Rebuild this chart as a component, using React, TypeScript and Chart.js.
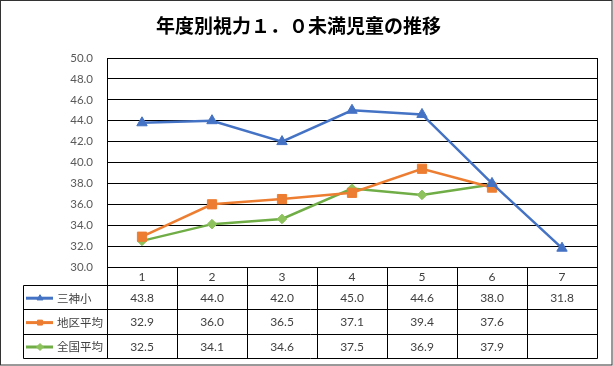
import React, { useEffect, useRef } from "react";
import { Chart, registerables } from "chart.js";
import { drawPoint } from "chart.js/helpers";

Chart.register(...registerables);

const TITLE = "年度別視力１．０未満児童の推移";
const categories = ["1", "2", "3", "4", "5", "6", "7"];
const seriesNames = ["三神小", "地区平均", "全国平均"];
const mikami = [43.8, 44.0, 42.0, 45.0, 44.6, 38.0, 31.8];
const chiku = [32.9, 36.0, 36.5, 37.1, 39.4, 37.6, null];
const zenkoku = [32.5, 34.1, 34.6, 37.5, 36.9, 37.9, null];

const lineColors = ["#4472C4", "#ED7D31", "#70AD47"];
const markerColors = ["#4472C4", "#ED7D31", "#8DC25D"];
const pointStyles = ["triangle", "rect", "rectRot"];
const pointRadii = [6, 6.5, 4.8];

const W = 613;
const H = 366;

const tablePlugin = {
  id: "dataTable",
  afterDraw(chart: any) {
    const ctx = chart.ctx;
    const area = chart.chartArea;
    const xs = chart.scales.x;
    const n = categories.length;
    const colW = (area.right - area.left) / n;
    const headerTop = area.bottom;
    const headerBottom = headerTop + 18;
    const rowH = 24.4;
    const tableBottom = headerBottom + rowH * 3;
    const legendLeft = 23.5;

    ctx.save();
    ctx.strokeStyle = "#000";
    ctx.lineWidth = 1;
    ctx.beginPath();
    ctx.moveTo(Math.round(area.right) + 0.5, area.top);
    ctx.lineTo(Math.round(area.right) + 0.5, Math.round(tableBottom) + 0.5);
    ctx.moveTo(Math.round(area.left) + 0.5, area.bottom);
    ctx.lineTo(Math.round(area.left) + 0.5, Math.round(tableBottom) + 0.5);
    for (let i = 1; i < n; i++) {
      const x = Math.round(area.left + colW * i) + 0.5;
      ctx.moveTo(x, headerTop);
      ctx.lineTo(x, Math.round(tableBottom) + 0.5);
    }
    for (let r = 0; r <= 3; r++) {
      const y = Math.round(headerBottom + rowH * r) + 0.5;
      ctx.moveTo(legendLeft, y);
      ctx.lineTo(Math.round(area.right) + 0.5, y);
    }
    ctx.moveTo(legendLeft, Math.round(headerBottom) + 0.5);
    ctx.lineTo(legendLeft, Math.round(tableBottom) + 0.5);
    ctx.stroke();

    ctx.fillStyle = "#404040";
    ctx.font = "12px Lato, 'Noto Sans', sans-serif";
    ctx.textAlign = "center";
    ctx.textBaseline = "middle";
    categories.forEach((c, i) => {
      ctx.fillText(c, xs.getPixelForValue(i), (headerTop + headerBottom) / 2 + 1);
    });

    const allData = [mikami, chiku, zenkoku];
    allData.forEach((arr, r) => {
      const cy = headerBottom + rowH * r + rowH / 2 + 1;
      ctx.strokeStyle = lineColors[r];
      ctx.lineWidth = 3;
      ctx.beginPath();
      ctx.moveTo(26, cy);
      ctx.lineTo(53, cy);
      ctx.stroke();
      ctx.fillStyle = markerColors[r];
      ctx.strokeStyle = markerColors[r];
      ctx.lineWidth = 1;
      drawPoint(ctx, { pointStyle: pointStyles[r], radius: 3.5, borderWidth: 1, rotation: 0 } as any, 40, cy);
      ctx.fillStyle = "#404040";
      ctx.textAlign = "left";
      ctx.font = "11.5px 'Noto Sans CJK JP', sans-serif";
      ctx.fillText(seriesNames[r], 57, cy);
      ctx.textAlign = "center";
      ctx.font = "12px Lato, 'Noto Sans', sans-serif";
      arr.forEach((v, i) => {
        if (v === null || v === undefined) return;
        ctx.fillText((v as number).toFixed(1), xs.getPixelForValue(i), cy);
      });
    });

    ctx.strokeStyle = "#333";
    ctx.lineWidth = 1;
    ctx.strokeRect(0.5, 0.5, W - 1.5, H - 1.5);
    ctx.restore();
  },
};

export default function App() {
  const ref = useRef<HTMLCanvasElement | null>(null);
  useEffect(() => {
    document.body.style.margin = "0";
    const canvas = ref.current!;
    const datasets = [mikami, chiku, zenkoku].map((d, i) => ({
      label: seriesNames[i],
      data: d,
      borderColor: lineColors[i],
      backgroundColor: markerColors[i],
      borderWidth: 2.5,
      pointStyle: pointStyles[i],
      pointRadius: pointRadii[i],
      pointBackgroundColor: markerColors[i],
      pointBorderColor: markerColors[i],
      pointBorderWidth: 1,
      tension: 0,
      spanGaps: false,
    }));
    const chart = new Chart(canvas, {
      type: "line",
      data: { labels: categories, datasets },
      options: {
        responsive: false,
        devicePixelRatio: 1,
        animation: false,
        layout: { padding: { left: 0, right: 16, top: 0, bottom: 99 } },
        plugins: {
          legend: { display: false },
          tooltip: { enabled: false },
          title: {
            display: true,
            text: TITLE,
            color: "#000",
            font: { family: "'Noto Sans CJK JP', sans-serif", size: 19, weight: "bold" },
            padding: { top: 14.6, bottom: 20.6 },
          },
        },
        scales: {
          x: { type: "category", display: false, offset: true },
          y: {
            min: 30,
            max: 50,
            ticks: {
              stepSize: 2,
              color: "#595959",
              font: { family: "Lato, 'Noto Sans', sans-serif", size: 11.5 },
              padding: 14,
              callback: (v: any) => Number(v).toFixed(1),
            },
            grid: { color: "#000", lineWidth: 1, drawTicks: false },
            border: { display: true, color: "#000", width: 1 },
            afterFit: (s: any) => {
              s.width = 107;
            },
          },
        },
      },
      plugins: [tablePlugin],
    } as any);
    return () => chart.destroy();
  }, []);
  return (
    <div style={{ width: W, height: H, background: "#fff" }}>
      <canvas ref={ref} width={W} height={H} style={{ display: "block" }} />
    </div>
  );
}
